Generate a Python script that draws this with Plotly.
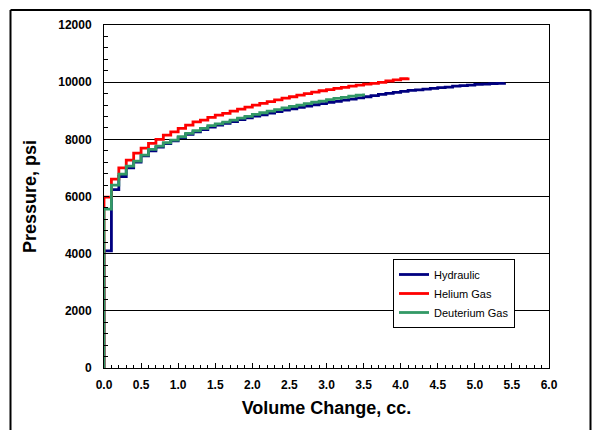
import plotly.graph_objects as go

# Hydraulic
hyd_x = [0.0, 0.0, 0.1, 0.2, 0.3, 0.4, 0.5, 0.6, 0.7, 0.8, 0.9, 1.0, 1.1, 1.2, 1.3, 1.4, 1.5, 1.6, 1.7, 1.8, 1.9,
         2.0, 2.1, 2.2, 2.3, 2.4, 2.5, 2.6, 2.7, 2.8, 2.9, 3.0, 3.1, 3.2, 3.3, 3.4, 3.5, 3.6, 3.7, 3.8, 3.9,
         4.0, 4.1, 4.2, 4.3, 4.4, 4.5, 4.6, 4.7, 4.8, 4.9, 5.0, 5.1, 5.2, 5.3, 5.4]
hyd_y = [0, 4100, 6240, 6700, 7000, 7200, 7420, 7600, 7730, 7850, 7950, 8060, 8170, 8260, 8340, 8430, 8500, 8560,
         8620, 8690, 8750, 8810, 8860, 8920, 8970, 9020, 9070, 9120, 9160, 9210, 9250, 9290, 9330, 9370, 9410,
         9450, 9490, 9530, 9570, 9610, 9640, 9680, 9710, 9730, 9760, 9780, 9810, 9830, 9860, 9880, 9900, 9920,
         9930, 9950, 9960, 9980]

# Helium Gas
he_x = [0.0, 0.0, 0.1, 0.2, 0.3, 0.4, 0.5, 0.6, 0.7, 0.8, 0.9, 1.0, 1.1, 1.2, 1.3, 1.4, 1.5, 1.6, 1.7, 1.8, 1.9,
        2.0, 2.1, 2.2, 2.3, 2.4, 2.5, 2.6, 2.7, 2.8, 2.9, 3.0, 3.1, 3.2, 3.3, 3.4, 3.5, 3.6, 3.7, 3.8, 3.9,
        4.0, 4.1]
he_y = [0, 5980, 6610, 7000, 7270, 7520, 7690, 7860, 8000, 8150, 8260, 8380, 8500, 8610, 8670, 8770, 8850, 8910,
        8990, 9060, 9130, 9200, 9260, 9320, 9380, 9440, 9490, 9550, 9600, 9650, 9700, 9740, 9780, 9820, 9860,
        9900, 9930, 9960, 9990, 10040, 10080, 10120, 10160]

# Deuterium Gas
de_x = [0.0, 0.0, 0.1, 0.2, 0.3, 0.4, 0.5, 0.6, 0.7, 0.8, 0.9, 1.0, 1.1, 1.2, 1.3, 1.4, 1.5, 1.6, 1.7, 1.8, 1.9,
        2.0, 2.1, 2.2, 2.3, 2.4, 2.5, 2.6, 2.7, 2.8, 2.9, 3.0, 3.1, 3.2, 3.3, 3.4, 3.5]
de_y = [0, 5560, 6400, 6780, 7060, 7240, 7450, 7650, 7760, 7880, 7970, 8090, 8210, 8300, 8380, 8480, 8540, 8600,
        8670, 8740, 8800, 8870, 8930, 8990, 9040, 9100, 9150, 9200, 9250, 9300, 9340, 9390, 9430, 9470, 9510,
        9550, 9600]

series_names = ["Hydraulic", "Helium Gas", "Deuterium Gas"]
colors = ["#000080", "#FF0000", "#339966"]

x_ticks = [0, 0.5, 1, 1.5, 2, 2.5, 3, 3.5, 4, 4.5, 5, 5.5, 6]
y_ticks = [0, 2000, 4000, 6000, 8000, 10000, 12000]
y_tick_labels = ["0", "2000", "4000", "6000", "8000", "10000", "12000"]

FONT = "Liberation Sans, Arial, sans-serif"

fig = go.Figure()
for xs, ys, name, c in zip([hyd_x, he_x, de_x], [hyd_y, he_y, de_y], series_names, colors):
    fig.add_trace(go.Scatter(x=xs, y=ys, name=name, mode="lines",
                             line=dict(color=c, width=2.8, shape="hv")))

W, H = 597, 430
L, R, T, B = 104, 48, 25, 62
pw, ph = W - L - R, H - T - B

def px2paper_x(p):
    return (p - L) / pw

def px2paper_y(p):
    return (H - B - p) / ph

bx0, bx1, by0, by1 = px2paper_x(10.5), px2paper_x(590.5), px2paper_y(440), px2paper_y(10)
for (a, b, c, d) in [(bx0, by1, bx1, by1), (bx0, by0, bx0, by1), (bx1, by0, bx1, by1)]:
    fig.add_shape(type="line", xref="paper", yref="paper", x0=a, y0=b, x1=c, y1=d,
                  line=dict(color="black", width=2), layer="above")

fig.update_layout(
    width=W, height=H,
    margin=dict(l=L, r=R, t=T, b=B, pad=0),
    paper_bgcolor="white", plot_bgcolor="white",
    font=dict(family=FONT, color="black"),
    showlegend=True,
    legend=dict(x=px2paper_x(393), y=px2paper_y(259), xanchor="left", yanchor="top",
                bgcolor="white", bordercolor="black", borderwidth=1,
                font=dict(family=FONT, size=11, color="black"),
                tracegroupgap=0, itemwidth=30),
    xaxis=dict(range=[0, 6], tickmode="array", tickvals=x_ticks, tickformat=".1f",
               ticks="inside", ticklen=5, tickcolor="black", tickwidth=1,
               minor=dict(dtick=0.1, ticks="inside", ticklen=3, tickcolor="black"),
               showline=True, linecolor="black", linewidth=1, mirror=True,
               showgrid=False, zeroline=False, ticklabelstandoff=6,
               tickfont=dict(family=FONT, size=12, color="black", weight="bold"),
               title=dict(text="Volume Change, cc.", standoff=9,
                          font=dict(family=FONT, size=18, color="black", weight="bold"))),
    yaxis=dict(range=[0, 12000], tickmode="array", tickvals=y_ticks, ticktext=y_tick_labels,
               ticks="inside", ticklen=5, tickcolor="black", tickwidth=1,
               minor=dict(dtick=400, ticks="inside", ticklen=4, tickcolor="black"),
               showline=True, linecolor="black", linewidth=1, mirror=True,
               showgrid=True, gridcolor="black", gridwidth=1, zeroline=False,
               ticklabelstandoff=9,
               tickfont=dict(family=FONT, size=12, color="black", weight="bold"),
               title=dict(text="Pressure, psi", standoff=16,
                          font=dict(family=FONT, size=18, color="black", weight="bold"))),
)

fig.write_html("out.html", config={"displayModeBar": False},
               post_script="document.body.style.margin='0';document.body.style.overflow='hidden';")
